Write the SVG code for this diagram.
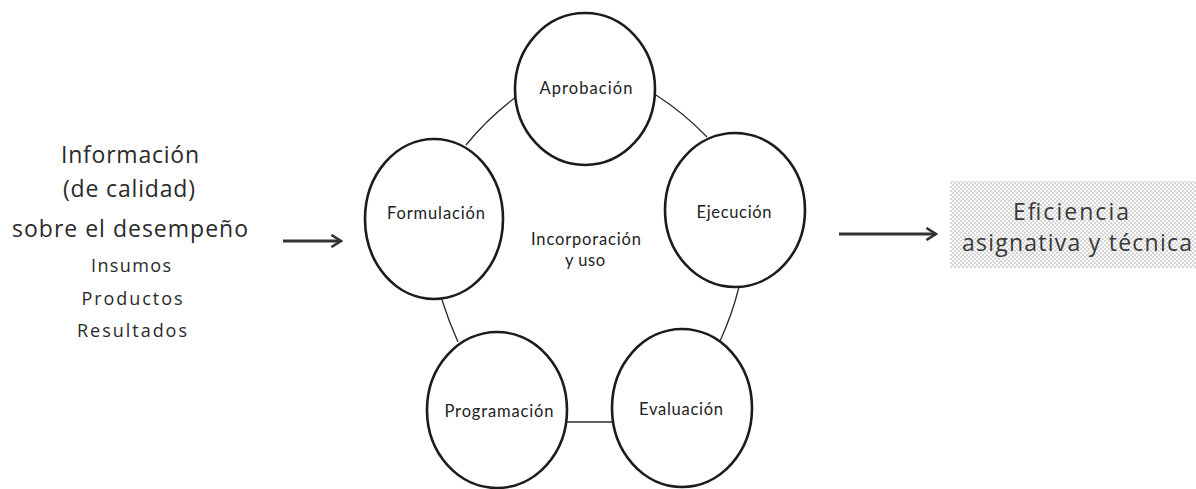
<svg xmlns="http://www.w3.org/2000/svg" width="1196" height="489" viewBox="0 0 1196 489">
<defs>
<style>
.node{fill:#fff;stroke:#1c1c1c;stroke-width:2.6}
.lbl{font-family:"Lato","Liberation Sans",sans-serif;font-size:16.5px;fill:#222;text-anchor:middle}
.left{font-family:"Open Sans","Liberation Sans",sans-serif;fill:#2a2a2a;text-anchor:middle}
.conn{fill:none;stroke:#2a2a2a;stroke-width:1.3}
.arrow{fill:none;stroke:#333;stroke-width:3.2}
.eff{font-family:"Open Sans","Liberation Sans",sans-serif;font-size:23px;fill:#3a3a3a;text-anchor:middle}
</style>
<pattern id="dots" width="4" height="4" patternUnits="userSpaceOnUse">
<rect width="4" height="4" fill="#fafafa"/>
<circle cx="1" cy="1" r="0.7" fill="#999"/>
<circle cx="3" cy="3" r="0.7" fill="#999"/>
</pattern>
<marker id="ah" viewBox="0 0 12 12" refX="10" refY="6" markerWidth="4.5" markerHeight="4.5" orient="auto" markerUnits="strokeWidth">
<path d="M2,1 L10,6 L2,11" fill="none" stroke="#333" stroke-width="2.2"/>
</marker>
</defs>
<rect width="1196" height="489" fill="#fff"/>

<g id="connectors">
<path class="conn" d="M466,145 Q488,118 516,97"/>
<path class="conn" d="M656,95 Q684,113 707,137"/>
<path class="conn" d="M739,287 Q732,315 720,341"/>
<path class="conn" d="M567,422 L612,422"/>
<path class="conn" d="M442,300 Q449,322 458,342"/>
<line class="arrow" x1="283" y1="241" x2="341" y2="241" marker-end="url(#ah)"/>
<line class="arrow" x1="839" y1="234" x2="936" y2="234" marker-end="url(#ah)"/>
</g>

<g id="info">
<text class="left" x="130" y="163" font-size="23" textLength="138" lengthAdjust="spacing">Información</text>
<text class="left" x="129" y="197" font-size="23" textLength="132" lengthAdjust="spacing">(de calidad)</text>
<text class="left" x="130" y="237" font-size="23" textLength="236" lengthAdjust="spacing">sobre el desempeño</text>
<text class="left" x="131" y="272" font-size="18" textLength="80" lengthAdjust="spacing">Insumos</text>
<text class="left" x="132" y="305" font-size="18" textLength="101" lengthAdjust="spacing">Productos</text>
<text class="left" x="132" y="337" font-size="18" textLength="110" lengthAdjust="spacing">Resultados</text>
</g>

<g id="aprobacion">
<ellipse class="node" cx="585" cy="89" rx="70" ry="76"/>
<text class="lbl" x="586" y="94" textLength="93" lengthAdjust="spacing">Aprobación</text>
</g>
<g id="formulacion">
<ellipse class="node" cx="434" cy="219" rx="69" ry="80"/>
<text class="lbl" x="436" y="219" textLength="98" lengthAdjust="spacing">Formulación</text>
</g>
<g id="ejecucion">
<ellipse class="node" cx="735" cy="210" rx="70" ry="77"/>
<text class="lbl" x="734" y="218" textLength="75" lengthAdjust="spacing">Ejecución</text>
</g>
<g id="evaluacion">
<ellipse class="node" cx="682" cy="408" rx="70" ry="79"/>
<text class="lbl" x="681" y="415" textLength="84" lengthAdjust="spacing">Evaluación</text>
</g>
<g id="programacion">
<ellipse class="node" cx="497" cy="410" rx="70" ry="78"/>
<text class="lbl" x="499" y="417" textLength="109" lengthAdjust="spacing">Programación</text>
</g>
<g id="incorporacion">
<text class="lbl" x="586" y="245" textLength="110" lengthAdjust="spacing">Incorporación</text>
<text class="lbl" x="585" y="266" textLength="40" lengthAdjust="spacing">y uso</text>
</g>

<g id="eficiencia">
<rect x="950" y="181" width="246" height="87" fill="url(#dots)"/>
<text class="eff" x="1071" y="220" textLength="116" lengthAdjust="spacing">Eficiencia</text>
<text class="eff" x="1077" y="251" textLength="230" lengthAdjust="spacing">asignativa y técnica</text>
</g>
</svg>
